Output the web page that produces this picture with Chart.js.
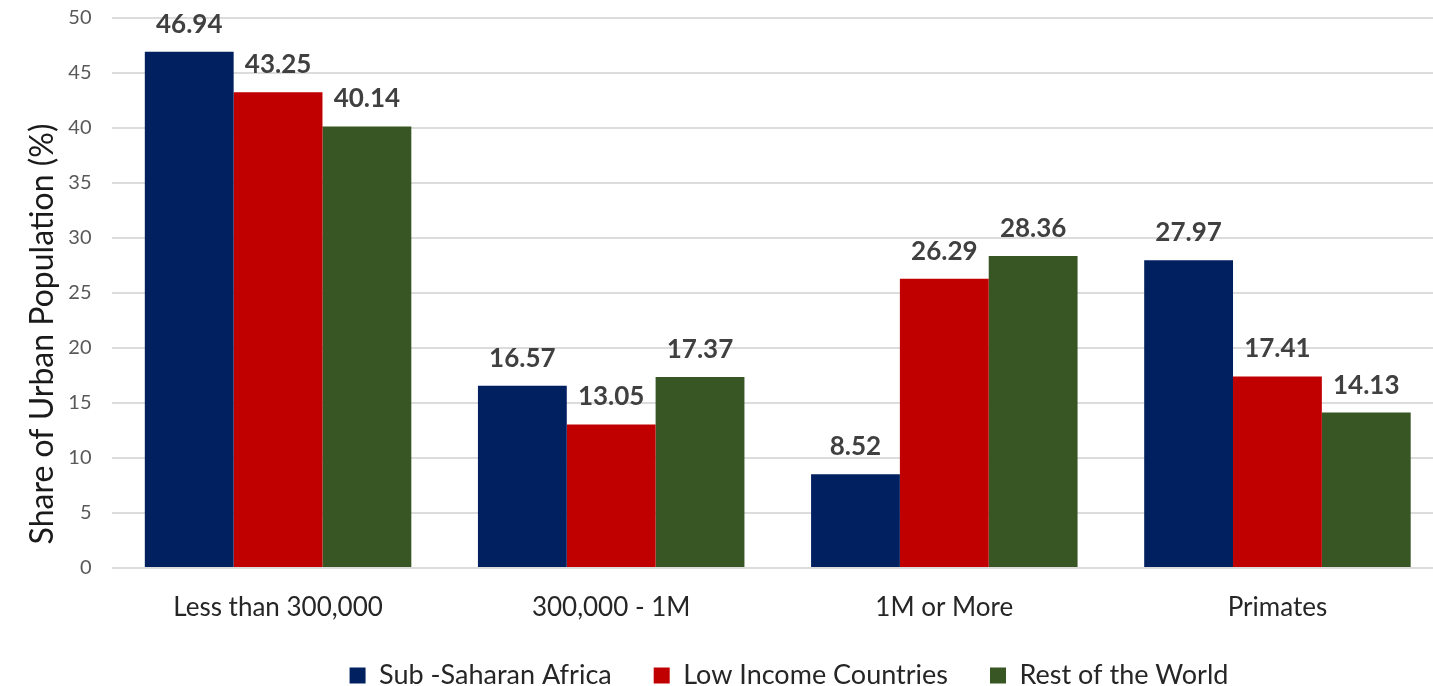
<!DOCTYPE html>
<html>
<head>
<meta charset="utf-8">
<script src="https://cdn.jsdelivr.net/npm/chart.js@4.4.1/dist/chart.umd.min.js"></script>
<style>
    html, body { margin: 0; padding: 0; background: #fff; overflow: hidden; }
    #wrap { width: 1445px; height: 686px; }
</style>
</head>
<body>
<div id="wrap"><canvas id="chart"></canvas></div>
<script>
// data
const categories = ['Less than 300,000', '300,000 - 1M', '1M or More', 'Primates'];
const subSaharan = [46.94, 16.57, 8.52, 27.97];
const lowIncome = [43.25, 13.05, 26.29, 17.41];
const restOfWorld = [40.14, 17.37, 28.36, 14.13];
const yMin = 0, yMax = 50, yStep = 5;

const FONT = 'Lato';

// value labels above each bar
const valueLabels = {
    id: 'valueLabels',
    afterDatasetsDraw(chart) {
        const ctx = chart.ctx;
        ctx.save();
        ctx.font = `bold 26px ${FONT}`;
        ctx.fillStyle = '#404040';
        ctx.textAlign = 'center';
        ctx.textBaseline = 'alphabetic';
        chart.data.datasets.forEach((ds, i) => {
            chart.getDatasetMeta(i).data.forEach((bar, j) => {
                ctx.fillText(ds.data[j].toFixed(2), bar.x, bar.y - 19);
            });
        });
        ctx.restore();
    }
};

// nudge the legend to where the original sits
const legendShift = {
    id: 'legendShift',
    afterLayout(chart) {
        const lg = chart.legend;
        const dx = 789 - (lg.left + lg.right) / 2;
        const dy = 620 - lg.top;
        lg.left += dx; lg.right += dx;
        lg.top += dy; lg.bottom += dy;
    }
};

new Chart(document.getElementById('chart'), {
    type: 'bar',
    data: {
        labels: categories,
        datasets: [
            { label: 'Sub -Saharan Africa', data: subSaharan, backgroundColor: '#002060' },
            { label: 'Low Income Countries', data: lowIncome, backgroundColor: '#C00000' },
            { label: 'Rest of the World', data: restOfWorld, backgroundColor: '#375623' }
        ]
    },
    options: {
        responsive: true,
        maintainAspectRatio: false,
        animation: false,
        layout: { padding: { top: 18, right: 1, left: 0, bottom: -26 } },
        datasets: { bar: { categoryPercentage: 0.8, barPercentage: 1.0 } },
        scales: {
            x: {
                grid: { display: false, drawTicks: false },
                border: { display: false },
                ticks: { color: '#262626', font: { family: FONT, size: 26 }, padding: 24 },
                afterFit(scale) { scale.height = 65; }
            },
            y: {
                min: yMin, max: yMax,
                ticks: { stepSize: yStep, color: '#595959', font: { family: FONT, size: 20 }, padding: 20 },
                grid: { color: '#dcdcdc', lineWidth: 2, drawTicks: false },
                border: { display: false },
                title: {
                    display: true,
                    text: 'Share of Urban Population (%)          ',
                    color: '#1a1a1a',
                    font: { family: FONT, size: 32 },
                    padding: { top: 23, bottom: 0 }
                },
                afterFit(scale) {
                    scale.width = 111.5;
                    scale.paddingTop = 6;
                }
            }
        },
        plugins: {
            legend: {
                position: 'bottom',
                labels: {
                    boxWidth: 16, boxHeight: 16, padding: 42,
                    color: '#262626',
                    font: { family: FONT, size: 27 }
                }
            },
            tooltip: { enabled: false }
        }
    },
    plugins: [valueLabels, legendShift]
});
</script>
</body>
</html>
